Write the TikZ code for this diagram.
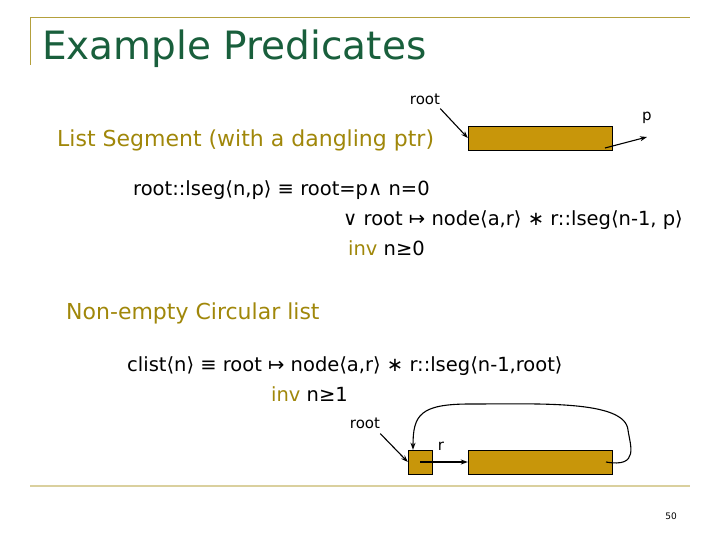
\documentclass[tikz,border=0pt]{standalone}
\usepackage{fontspec}
\setmainfont{DejaVu Sans}
\usetikzlibrary{arrows.meta}
\definecolor{gold}{RGB}{180,160,60}
\definecolor{olive}{RGB}{160,135,10}
\definecolor{ttl}{RGB}{25,95,60}
\definecolor{boxc}{RGB}{200,150,10}
\tikzset{
 cell/.style={draw=black,fill=boxc,minimum height=24pt,inner sep=0pt},
 lbl/.style={font=\fontsize{15}{15}\selectfont,inner sep=0pt},
 txt/.style={anchor=west,inner sep=0pt,font=\fontsize{19.5}{20}\selectfont},
 head/.style={anchor=west,inner sep=0pt,text=olive,font=\fontsize{22}{22}\selectfont},
 arr/.style={-{Stealth[length=7pt,width=5pt]},line width=1.1pt}
}
\begin{document}
\begin{tikzpicture}[x=1pt,y=-1pt]
\useasboundingbox (0,0) rectangle (720,540);
\draw[gold,thick] (30,65) -- (30,17) -- (690,17);
\draw[gold!50,line width=2.5pt] (30,486) -- (690,486);
\node[font=\fontsize{9}{9}\selectfont,inner sep=0pt] (pg) at (671,516) {50};
\node[anchor=west,inner sep=0pt,text=ttl,font=\fontsize{39}{39}\selectfont] (title) at (42,49) {Example Predicates};
% list segment
\node[head] (ls) at (57,140) {List Segment (with a dangling ptr)};
\node[lbl] (r1) at (425,99) {root};
\node[cell,minimum width=144pt] (b1) at (540,138) {};
\node[lbl] (p1) at (647,118) {p};
\coordinate (p1e) at (647,137);
\coordinate (b1in) at (605,148);
\draw[arr] (r1.south east) ++(0,4) -- (b1.west);
\draw[arr] (b1in) -- (p1e);
\node[txt] (f1) at (133,190) {root::lseg⟨n,p⟩ ≡ root=p∧ n=0};
\node[txt] (f2) at (343,220) {∨ root ↦ node⟨a,r⟩ ∗ r::lseg⟨n-1, p⟩};
\node[txt] (f3) at (348,248) {\textcolor{olive}{inv} n≥0};
% circular
\node[head] (cl) at (66,313) {Non-empty Circular list};
\node[txt] (g1) at (127,366) {clist⟨n⟩ ≡ root ↦ node⟨a,r⟩ ∗ r::lseg⟨n-1,root⟩};
\node[txt] (g2) at (271,394) {\textcolor{olive}{inv} n≥1};
\node[lbl] (r2) at (365,423) {root};
\node[cell,minimum width=24pt] (s) at (420,462) {};
\node[lbl] (rl) at (441,446) {r};
\node[cell,minimum width=144pt] (b2) at (540,462) {};
\coordinate (b2in) at (606,462);
\draw[arr] (r2.south east) ++(0,5) -- (s.west);
\draw[arr] (s.center) -- (b2.west);
\draw[arr] (b2in) .. controls (640,468) and (630,445) .. (628,430)
  .. controls (625,400) and (540,404) .. (470,404)
  .. controls (420,404) and (413,415) .. (s.north -| 413,0);
\end{tikzpicture}
\end{document}
